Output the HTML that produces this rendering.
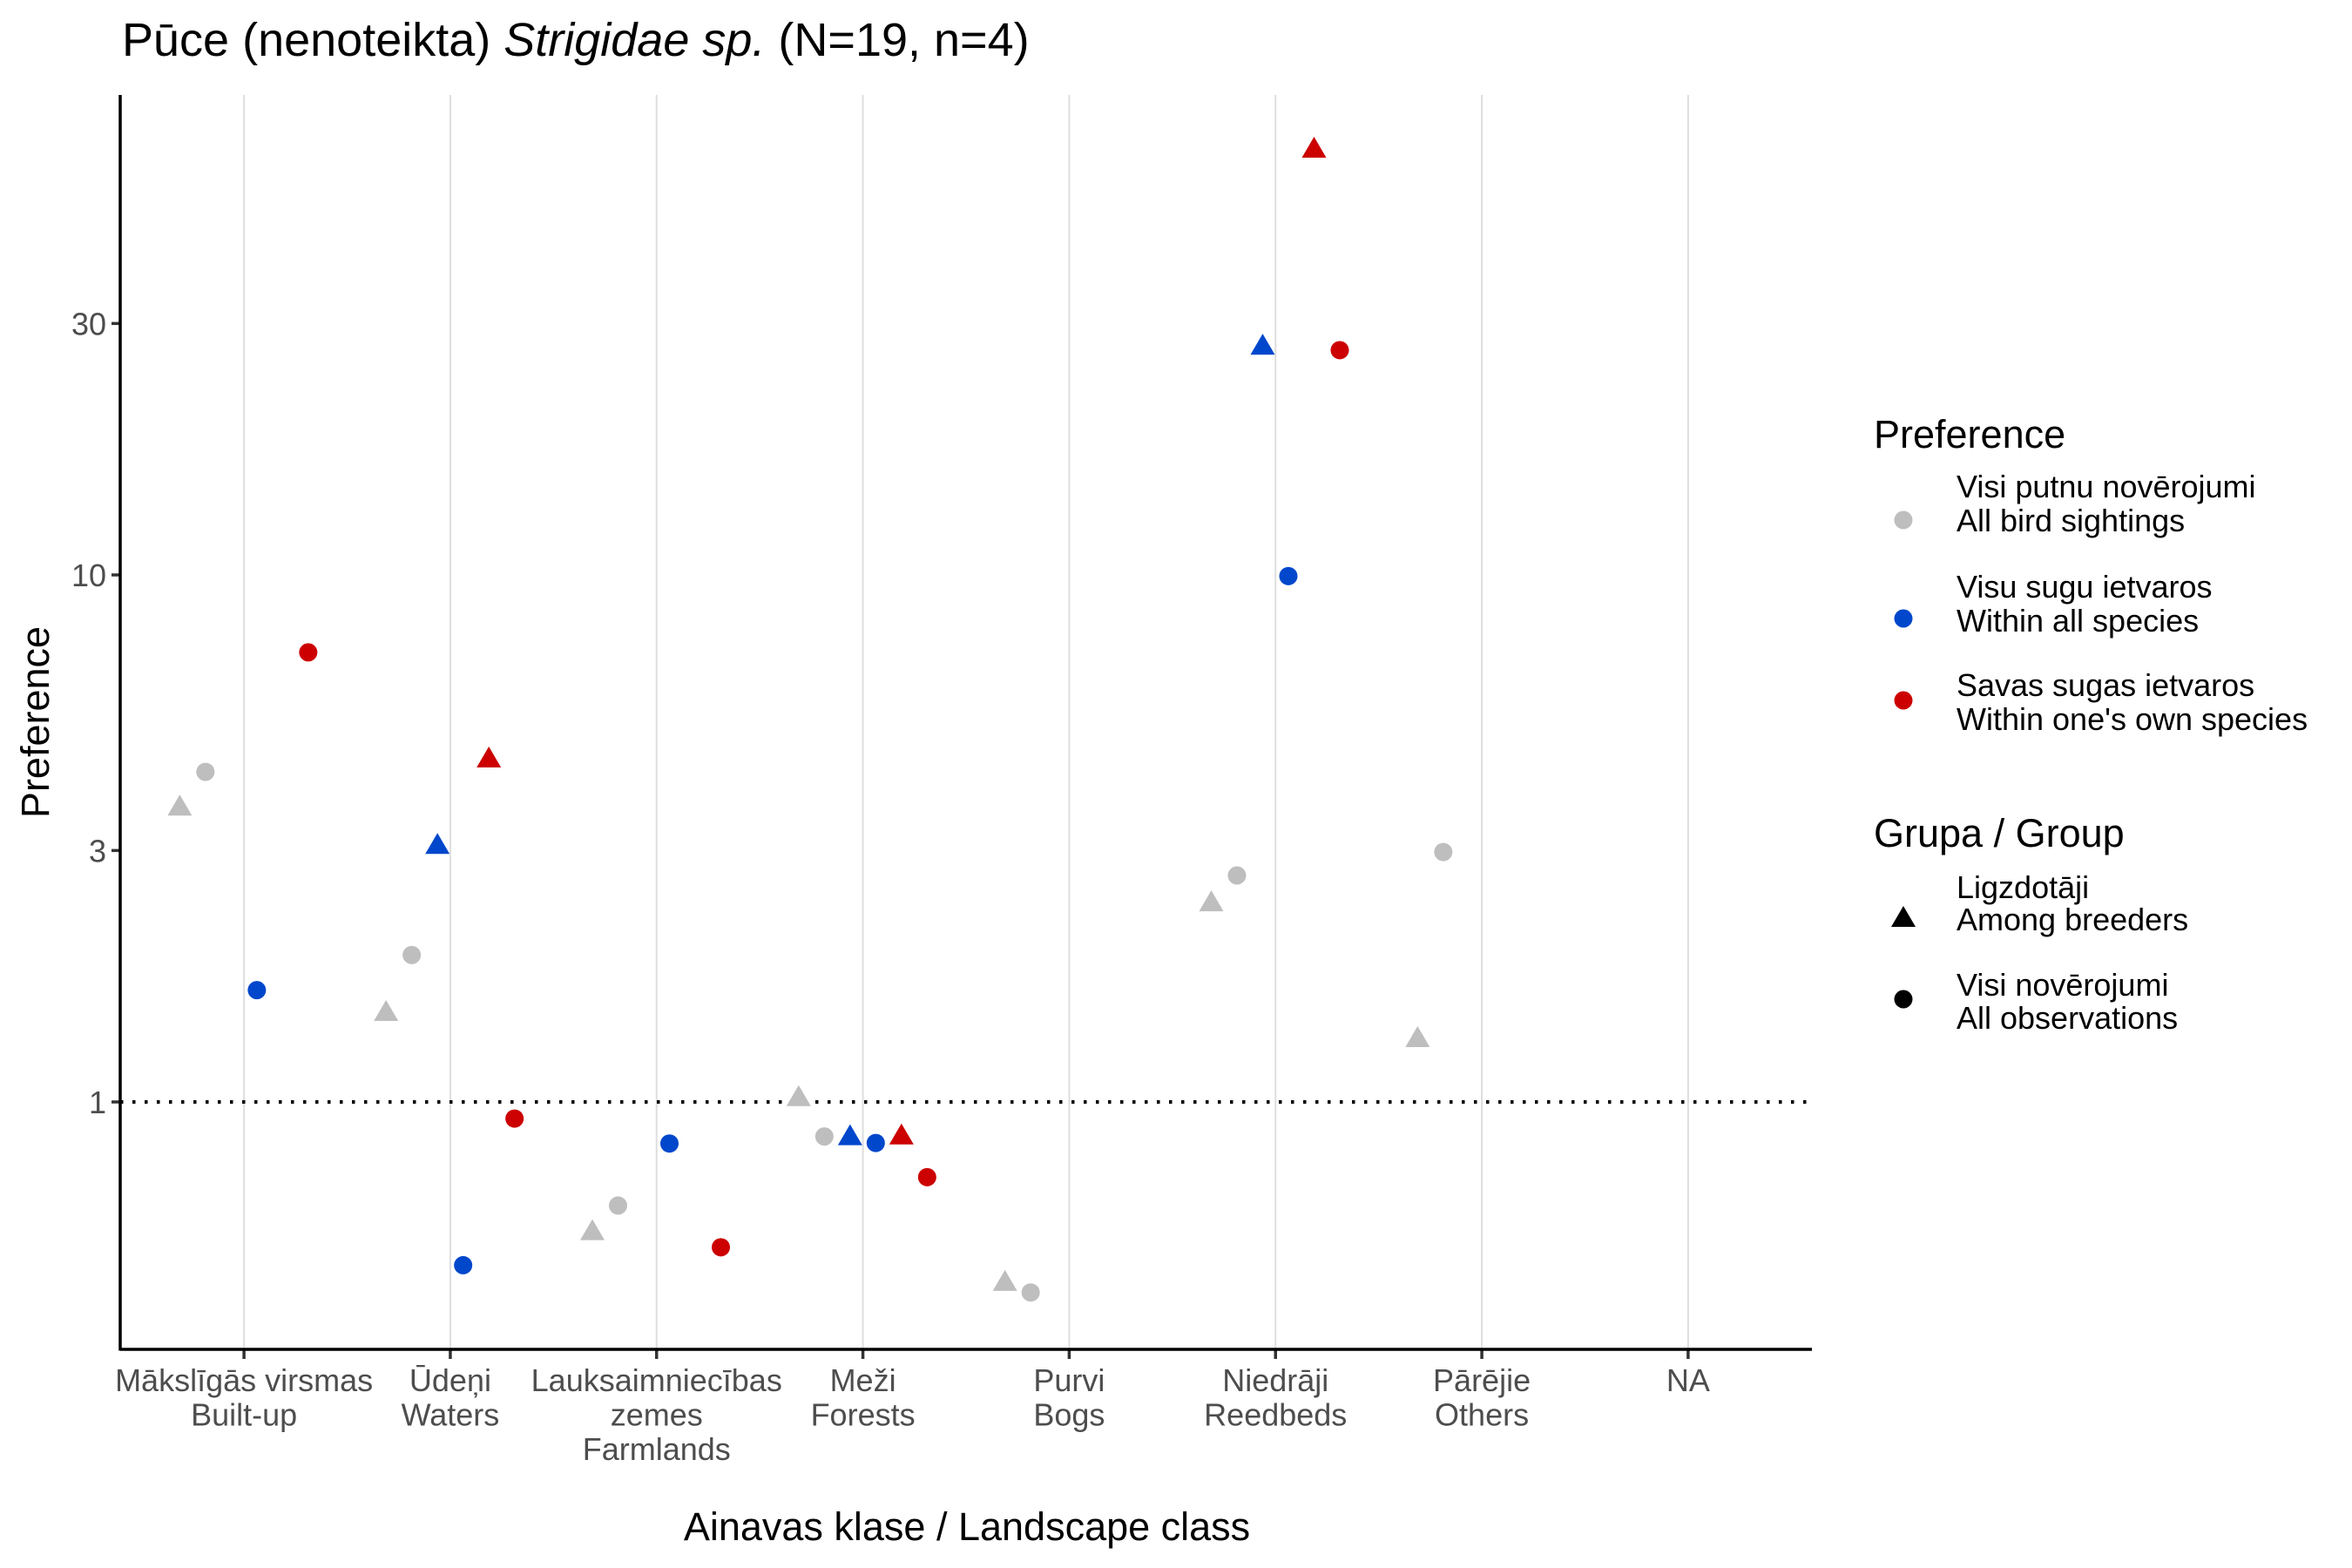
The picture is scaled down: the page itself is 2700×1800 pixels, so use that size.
<!DOCTYPE html>
<html><head><meta charset="utf-8">
<style>
html,body{margin:0;padding:0;background:#fff;}
svg{display:block;font-family:"Liberation Sans",sans-serif;}
</style></head>
<body>
<svg id="chart" width="2700" height="1800" viewBox="0 0 2700 1800" xmlns="http://www.w3.org/2000/svg">
<rect width="2700" height="1800" fill="#fff"/>
<text x="140" y="64" font-size="54" fill="#000">Pūce (nenoteikta) <tspan font-style="italic">Strigidae sp.</tspan> (N=19, n=4)</text>
<g id="grid"></g>
<g id="refline"></g>
<g id="marks"></g>
<g id="axes"></g>
<text transform="translate(56,829) rotate(-90)" text-anchor="middle" font-size="45" fill="#000">Preference</text>
<text x="1110" y="1768" text-anchor="middle" font-size="45" fill="#000">Ainavas klase / Landscape class</text>
<g>
<text x="2151" y="514" font-size="45" fill="#000">Preference</text>
<circle cx="2185" cy="597" r="10.5" fill="#bebebe"/>
<text font-size="36" fill="#000"><tspan x="2246" y="571">Visi putnu novērojumi</tspan><tspan x="2246" y="610">All bird sightings</tspan></text>
<circle cx="2185" cy="710" r="10.5" fill="#0047cc"/>
<text font-size="36" fill="#000"><tspan x="2246" y="686">Visu sugu ietvaros</tspan><tspan x="2246" y="725">Within all species</tspan></text>
<circle cx="2185" cy="804" r="10.5" fill="#cc0000"/>
<text font-size="36" fill="#000"><tspan x="2246" y="799">Savas sugas ietvaros</tspan><tspan x="2246" y="838">Within one's own species</tspan></text>
</g>
<g>
<text x="2151" y="972" font-size="45" fill="#000">Grupa / Group</text>
<polygon points="2185,1040 2199,1064 2171,1064" fill="#000"/>
<text font-size="36" fill="#000"><tspan x="2246" y="1031">Ligzdotāji</tspan><tspan x="2246" y="1068">Among breeders</tspan></text>
<circle cx="2185" cy="1147" r="10.5" fill="#000"/>
<text font-size="36" fill="#000"><tspan x="2246" y="1143">Visi novērojumi</tspan><tspan x="2246" y="1181">All observations</tspan></text>
</g>
</svg>
<script>
const categoriesLine1 = ["Mākslīgās virsmas","Ūdeņi","Lauksaimniecības","Meži","Purvi","Niedrāji","Pārējie","NA"];
const categoriesLine2 = ["Built-up","Waters","zemes","Forests","Bogs","Reedbeds","Others",""];
const categoriesLine3 = ["","","Farmlands","","","","",""];
const yTickValues = [1,3,10,30];
const yTickLabels = ["1","3","10","30"];
// series values per category (null = missing)
const grayBreeders = [3.63,1.48,0.568,1.02,0.455,2.39,1.32,null];
const grayAll      = [4.23,1.90,0.636,0.86,0.435,2.69,2.98,null];
const blueBreeders = [null,3.07,null,0.86,null,27.2,null,null];
const blueAll      = [1.63,0.49,0.834,0.836,null,9.95,null,null];
const redBreeders  = [null,4.48,null,0.863,null,64.3,null,null];
const redAll       = [7.13,0.93,0.53,0.72,null,26.7,null,null];

const NS="http://www.w3.org/2000/svg";
const L=138,R=2080,T=109,B=1549;
const step=(R-L)/(categoriesLine1.length-1+1.2);
function xScale(i){return L+step*(0.6+i);}
function yScale(v){return 1265-605*Math.log10(v);}
function mk(tag,attrs,parent){const e=document.createElementNS(NS,tag);for(const k in attrs)e.setAttribute(k,attrs[k]);parent.appendChild(e);return e;}
const grid=document.getElementById('grid'),axes=document.getElementById('axes'),marks=document.getElementById('marks'),ref=document.getElementById('refline');

categoriesLine1.forEach((c,i)=>{
  const x=xScale(i);
  const g=mk('line',{x1:x,x2:x,y1:T,y2:B,stroke:'#dedede','stroke-width':2},grid);
  
  
  const t=mk('line',{x1:x,x2:x,y1:B,y2:B+11,stroke:'#333','stroke-width':3.5},axes);
  
  
  const lab=mk('text',{x:x,'text-anchor':'middle','font-size':36,fill:'#4d4d4d'},axes);
  
  
  [categoriesLine1[i],categoriesLine2[i],categoriesLine3[i]].forEach((s,j)=>{
    if(!s)return;const ts=mk('tspan',{x:x,y:1597+j*39.5},lab);ts.textContent=s;});
});
const rl=mk('line',{x1:L,x2:R,y1:yScale(1),y2:yScale(1),stroke:'#000','stroke-width':4,'stroke-dasharray':'3.5 10.5'},ref);



yTickValues.forEach((v,i)=>{
  const y=yScale(v);
  const t=mk('line',{x1:L-10,x2:L,y1:y,y2:y,stroke:'#333','stroke-width':3.5},axes);
  
  
  const lab=mk('text',{x:L-16,y:y+13,'text-anchor':'end','font-size':36,fill:'#4d4d4d'},axes);
  
  
  lab.textContent=yTickLabels[i];
});
const ya=mk('line',{x1:L,x2:L,y1:T,y2:B+1.5,stroke:'#000','stroke-width':3.5},axes);


const xa=mk('line',{x1:L,x2:R,y1:B,y2:B,stroke:'#000','stroke-width':3.5},axes);



const series=[
  {vals:grayBreeders,color:'#bebebe',tri:true,name:'all-birds-breeders'},
  {vals:grayAll,color:'#bebebe',tri:false,name:'all-birds-all'},
  {vals:blueBreeders,color:'#0047cc',tri:true,name:'all-species-breeders'},
  {vals:blueAll,color:'#0047cc',tri:false,name:'all-species-all'},
  {vals:redBreeders,color:'#cc0000',tri:true,name:'own-species-breeders'},
  {vals:redAll,color:'#cc0000',tri:false,name:'own-species-all'}
];
const dodge=29.5;
series.forEach((s,k)=>{
  const off=(k-2.5)*dodge;
  s.vals.forEach((v,i)=>{
    if(v==null)return;
    const x=xScale(i)+off,y=yScale(v);
    let e;
    if(s.tri){e=mk('polygon',{points:`${x},${y-14} ${x+14},${y+10} ${x-14},${y+10}`,fill:s.color},marks);}
    else{e=mk('circle',{cx:x,cy:y,r:10.5,fill:s.color},marks);}
    
    
  });
});
</script>
</body></html>
